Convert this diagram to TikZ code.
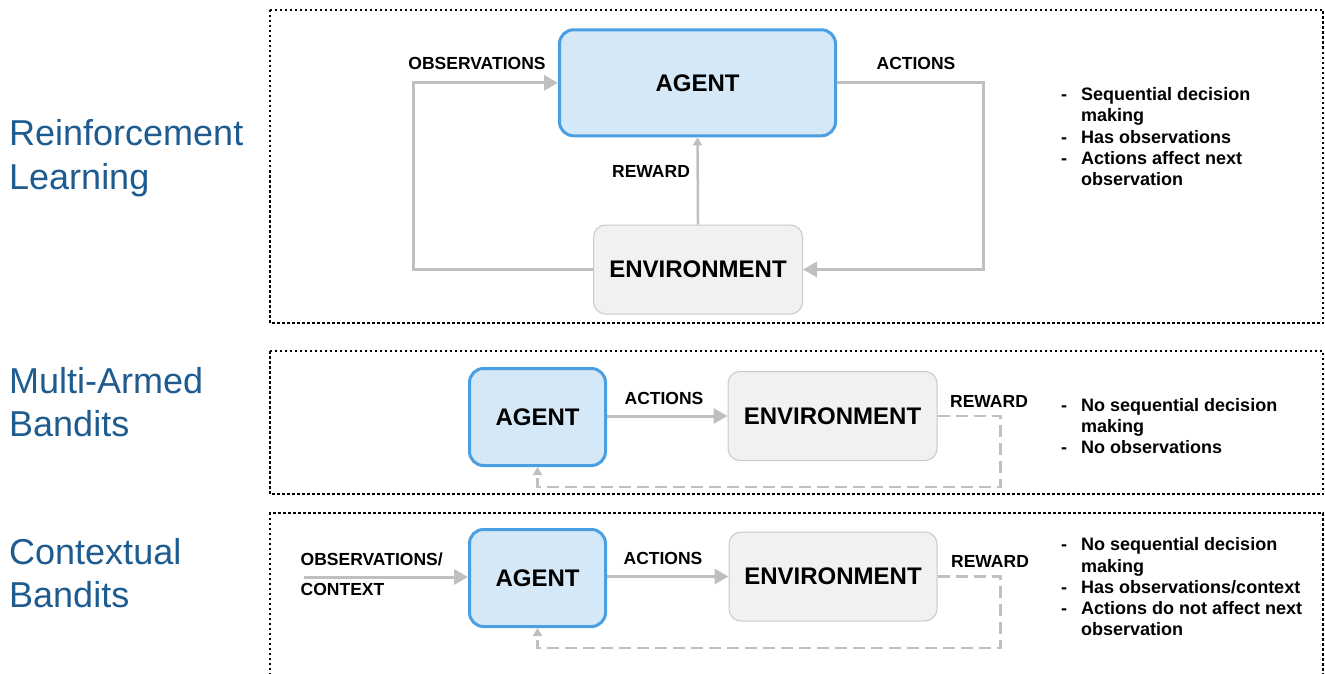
\documentclass[tikz,border=0pt]{standalone}
\usepackage{fontspec}
\setmainfont{Liberation Sans}
\usetikzlibrary{arrows.meta}
\definecolor{titleblue}{HTML}{1E5B8F}
\definecolor{agentfill}{HTML}{D5E8F7}
\definecolor{agentborder}{HTML}{4A9FE3}
\definecolor{envfill}{HTML}{F1F1F1}
\definecolor{envborder}{HTML}{C9C9C9}
\definecolor{flowgray}{HTML}{BFBFBF}
\begin{document}
\begin{tikzpicture}[x=1pt,y=-1pt,
  panel/.style={draw=black, line width=2.5pt, dash pattern=on 2.5pt off 2.5pt},
  agentbox/.style={draw=agentborder, fill=agentfill, line width=3pt, rounded corners=14pt, inner sep=0pt, font=\fontsize{24}{28}\selectfont\bfseries},
  envbox/.style={draw=envborder, fill=envfill, line width=1pt, rounded corners=12pt, inner sep=0pt, font=\fontsize{24}{28}\selectfont\bfseries},
  flow/.style={draw=flowgray, line width=3pt, -{Triangle[length=14pt,width=15pt]}},
  rewardflow/.style={draw=flowgray, line width=2.5pt, -{Triangle[length=8pt,width=9pt]}},
  dashflow/.style={rewardflow, dash pattern=on 12pt off 6pt},
  lbl/.style={font=\fontsize{17.5}{21}\selectfont\bfseries, anchor=base, inner sep=0pt},
  lblw/.style={lbl, anchor=base west},
  bullet/.style={font=\fontsize{18}{21}\selectfont\bfseries, anchor=base west, inner sep=0pt},
  ttl/.style={font=\fontsize{36}{44}\selectfont, text=titleblue, anchor=base west, inner sep=0pt}
]
\useasboundingbox (0,0) rectangle (1325,674);

% panels
\draw[panel] (270,10) rectangle (1323,323);
\draw[panel] (270,351) rectangle (1323,494);
\draw[panel] (270,690) -- (270,513) -- (1323,513) -- (1323,690);

% titles
\node[ttl] (t1a) at (9,145.7) {Reinforcement};
\node[ttl] (t1b) at (9,189.3) {Learning};
\node[ttl] (t2a) at (9,393.3) {Multi-Armed};
\node[ttl] (t2b) at (9,436.7) {Bandits};
\node[ttl] (t3a) at (9,564) {Contextual};
\node[ttl] (t3b) at (9,607.3) {Bandits};

% ---------- Reinforcement learning
\node[agentbox, minimum width=276pt, minimum height=106pt] (agent1) at (697.5,82.8) {AGENT};
\node[envbox, minimum width=209pt, minimum height=89pt] (env1) at (698,269.5) {ENVIRONMENT};
\draw[flow] (env1.west) -- ++(-180,0) |- (agent1.west);
\draw[flow] (agent1.east) -- ++(146,0) |- (env1.east);
\draw[rewardflow] (env1.north) -- (agent1.south);
\node[lbl] (obs1) at (477,69.3) {OBSERVATIONS};
\node[lbl] (act1) at (916,69.3) {ACTIONS};
\node[lbl] (rew1) at (651,177.3) {REWARD};

\node[bullet] (d1a) at (1061,100.5) {-};
\node[bullet] (b1a) at (1081,100.5) {Sequential decision};
\node[bullet] (b1b) at (1081,121.8) {making};
\node[bullet] (d1c) at (1061,143) {-};
\node[bullet] (b1c) at (1081,143) {Has observations};
\node[bullet] (d1d) at (1061,164.3) {-};
\node[bullet] (b1d) at (1081,164.3) {Actions affect next};
\node[bullet] (b1e) at (1081,185.6) {observation};

% ---------- Multi-armed bandits
\node[agentbox, minimum width=136pt, minimum height=97pt] (agent2) at (537.5,417) {AGENT};
\node[envbox, minimum width=209pt, minimum height=89pt] (env2) at (832.5,416) {ENVIRONMENT};
\draw[flow] (agent2.east |- env2.west) -- (env2.west);
\draw[dashflow] (env2.east) -- ++(63,0) -- ++(0,71) -| (agent2.south);
\node[lbl] (act2) at (664,404.5) {ACTIONS};
\node[lbl] (rew2) at (989,407.5) {REWARD};

\node[bullet] (d2a) at (1061,411.7) {-};
\node[bullet] (b2a) at (1081,411.7) {No sequential decision};
\node[bullet] (b2b) at (1081,432.7) {making};
\node[bullet] (d2c) at (1061,453.3) {-};
\node[bullet] (b2c) at (1081,453.3) {No observations};

% ---------- Contextual bandits
\node[agentbox, minimum width=136pt, minimum height=97pt] (agent3) at (537.5,578) {AGENT};
\node[envbox, minimum width=208pt, minimum height=89pt] (env3) at (833,576.5) {ENVIRONMENT};
\coordinate (obsstart) at (304,577);
\draw[flow] (obsstart) -- (obsstart -| agent3.west);
\draw[flow] (agent3.east |- env3.west) -- (env3.west);
\draw[dashflow] (env3.east) -- ++(63,0) -- ++(0,71.5) -| (agent3.south);
\node[lblw] (obs3a) at (300.5,565) {OBSERVATIONS/};
\node[lblw] (obs3b) at (300.5,595) {CONTEXT};
\node[lbl] (act3) at (663,564.3) {ACTIONS};
\node[lbl] (rew3) at (990,567.3) {REWARD};

\node[bullet] (d3a) at (1061,550.7) {-};
\node[bullet] (b3a) at (1081,550.7) {No sequential decision};
\node[bullet] (b3b) at (1081,572) {making};
\node[bullet] (d3c) at (1061,593) {-};
\node[bullet] (b3c) at (1081,593) {Has observations/context};
\node[bullet] (d3d) at (1061,614) {-};
\node[bullet] (b3d) at (1081,614) {Actions do not affect next};
\node[bullet] (b3e) at (1081,635) {observation};
\end{tikzpicture}
\end{document}
